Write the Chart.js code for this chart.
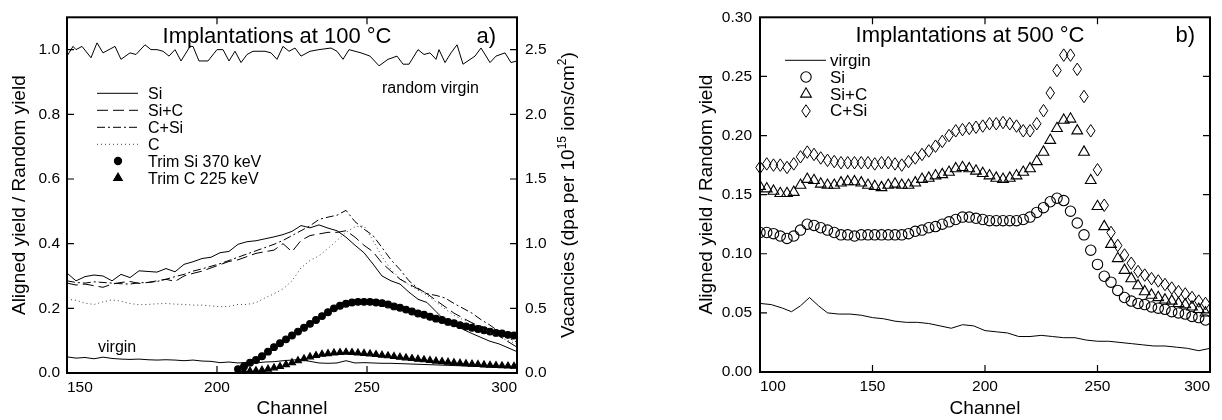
<!DOCTYPE html>
<html>
<head>
<meta charset="utf-8">
<title>Aligned yield / Random yield</title>
<script src="https://cdn.jsdelivr.net/npm/chart.js@4.4.1/dist/chart.umd.min.js"></script>
<style>
  html, body { margin: 0; padding: 0; background: #fff; }
  #wrap { position: relative; width: 1222px; height: 420px; }
  canvas { position: absolute; top: 0; }
  #chartA { left: 0; }
  #chartB { left: 610px; }
</style>
</head>
<body>
<div id="wrap">
  <canvas id="chartA" width="610" height="420"></canvas>
  <canvas id="chartB" width="612" height="420"></canvas>
</div>
<script>
const FONT = '"Liberation Sans", Arial, Helvetica, sans-serif';

// ---- a) implantations at 100 °C ----
const randomChannels = [150, 152, 153, 155, 158, 160, 162, 164, 166, 168, 171, 173, 176, 178, 180, 182, 184, 186, 188, 191, 192, 194, 197, 200, 202, 204, 206, 208, 210, 212, 216, 218, 220, 222, 224, 226, 228, 231, 234, 238, 240, 242, 244, 248, 251, 254, 257, 260, 262, 264, 267, 269, 271, 273, 274, 276, 278, 280, 282, 286, 288, 291, 293, 296, 298, 300];
const randomVirgin = [0.980, 1.010, 1.000, 1.010, 0.975, 1.021, 0.990, 1.000, 1.010, 0.970, 0.990, 0.985, 1.015, 1.000, 1.000, 0.995, 0.980, 1.000, 0.965, 1.010, 1.010, 0.965, 0.965, 1.000, 1.000, 0.965, 0.995, 0.960, 0.985, 0.995, 0.995, 0.990, 0.970, 1.010, 0.995, 1.005, 0.980, 0.995, 1.000, 1.005, 0.995, 0.970, 1.000, 0.990, 0.980, 0.950, 0.970, 0.980, 0.955, 0.955, 1.000, 0.985, 0.990, 0.970, 1.000, 0.960, 0.990, 1.015, 0.955, 0.980, 1.005, 0.960, 0.980, 0.990, 0.960, 0.965];

const channelsA = [150, 153, 156, 159, 162, 165, 168, 171, 174, 177, 180, 183, 186, 189, 192, 195, 198, 201, 204, 207, 210, 213, 216, 219, 222, 225, 228, 231, 234, 237, 240, 243, 246, 249, 252, 255, 258, 261, 264, 267, 270, 273, 276, 279, 282, 285, 288, 291, 294, 297, 300];
const virgin100 = [0.050, 0.046, 0.048, 0.044, 0.049, 0.045, 0.043, 0.042, 0.043, 0.041, 0.040, 0.041, 0.040, 0.038, 0.040, 0.037, 0.036, 0.032, 0.034, 0.031, 0.033, 0.031, 0.034, 0.035, 0.038, 0.040, 0.042, 0.036, 0.031, 0.030, 0.031, 0.038, 0.031, 0.032, 0.031, 0.030, 0.030, 0.029, 0.028, 0.027, 0.026, 0.025, 0.024, 0.023, 0.022, 0.021, 0.020, 0.019, 0.018, 0.017, 0.016];
const si100 = [0.309, 0.285, 0.298, 0.303, 0.300, 0.285, 0.305, 0.295, 0.316, 0.314, 0.312, 0.323, 0.313, 0.336, 0.344, 0.354, 0.358, 0.372, 0.376, 0.398, 0.406, 0.409, 0.415, 0.421, 0.428, 0.438, 0.456, 0.449, 0.458, 0.448, 0.440, 0.420, 0.395, 0.372, 0.337, 0.300, 0.285, 0.275, 0.250, 0.228, 0.218, 0.190, 0.162, 0.150, 0.135, 0.122, 0.110, 0.098, 0.090, 0.078, 0.066];
const siC100 = [0.278, 0.272, 0.275, 0.270, 0.265, 0.275, 0.280, 0.283, 0.277, 0.280, 0.285, 0.290, 0.283, 0.300, 0.308, 0.315, 0.325, 0.335, 0.345, 0.350, 0.360, 0.370, 0.375, 0.380, 0.400, 0.375, 0.410, 0.425, 0.430, 0.435, 0.435, 0.440, 0.420, 0.395, 0.375, 0.340, 0.315, 0.290, 0.275, 0.260, 0.245, 0.225, 0.205, 0.185, 0.170, 0.155, 0.145, 0.130, 0.115, 0.097, 0.080];
const cSi100 = [0.285, 0.280, 0.278, 0.282, 0.280, 0.278, 0.276, 0.275, 0.279, 0.280, 0.283, 0.290, 0.298, 0.305, 0.315, 0.322, 0.330, 0.338, 0.348, 0.358, 0.368, 0.378, 0.388, 0.398, 0.410, 0.425, 0.440, 0.455, 0.475, 0.482, 0.488, 0.503, 0.468, 0.445, 0.425, 0.388, 0.350, 0.320, 0.285, 0.262, 0.245, 0.240, 0.232, 0.215, 0.200, 0.185, 0.165, 0.148, 0.128, 0.110, 0.095];
const c100 = [0.228, 0.225, 0.216, 0.212, 0.220, 0.226, 0.222, 0.215, 0.211, 0.212, 0.214, 0.215, 0.213, 0.212, 0.210, 0.210, 0.207, 0.205, 0.206, 0.212, 0.212, 0.218, 0.232, 0.245, 0.260, 0.285, 0.325, 0.348, 0.362, 0.385, 0.410, 0.435, 0.452, 0.455, 0.410, 0.360, 0.320, 0.292, 0.272, 0.256, 0.240, 0.220, 0.198, 0.178, 0.165, 0.155, 0.140, 0.125, 0.112, 0.100, 0.090];

// TRIM vacancy profiles, dpa per 1e15 ions/cm2 (right axis)
const trimChannels = [207, 209, 211, 213, 215, 217, 219, 221, 223, 225, 227, 229, 231, 233, 235, 237, 239, 241, 243, 245, 247, 249, 251, 253, 255, 257, 259, 261, 263, 265, 267, 269, 271, 273, 275, 277, 279, 281, 283, 285, 287, 289, 291, 293, 295, 297, 299];
const trimSi = [0.03, 0.05, 0.08, 0.10, 0.13, 0.165, 0.20, 0.23, 0.26, 0.29, 0.32, 0.35, 0.38, 0.41, 0.44, 0.47, 0.50, 0.52, 0.535, 0.545, 0.55, 0.55, 0.55, 0.545, 0.54, 0.53, 0.515, 0.505, 0.49, 0.475, 0.46, 0.45, 0.435, 0.42, 0.41, 0.395, 0.385, 0.37, 0.36, 0.35, 0.34, 0.33, 0.32, 0.31, 0.305, 0.295, 0.29];
const trimC = [0.01, 0.012, 0.015, 0.018, 0.022, 0.03, 0.04, 0.05, 0.065, 0.08, 0.095, 0.11, 0.125, 0.135, 0.145, 0.15, 0.155, 0.158, 0.16, 0.158, 0.155, 0.152, 0.148, 0.143, 0.138, 0.133, 0.128, 0.122, 0.117, 0.112, 0.107, 0.102, 0.097, 0.092, 0.088, 0.084, 0.08, 0.076, 0.072, 0.069, 0.066, 0.063, 0.06, 0.058, 0.056, 0.054, 0.052];

// ---- b) implantations at 500 °C ----
const virginChannels = [100, 105, 110, 114, 118, 122, 126, 130, 135, 140, 145, 150, 155, 160, 165, 170, 175, 180, 185, 190, 195, 200, 205, 210, 215, 220, 225, 230, 235, 240, 245, 250, 255, 260, 265, 270, 275, 280, 285, 290, 295, 300];
const virgin500 = [0.058, 0.057, 0.054, 0.051, 0.056, 0.063, 0.056, 0.050, 0.049, 0.049, 0.048, 0.046, 0.045, 0.043, 0.042, 0.042, 0.041, 0.039, 0.037, 0.040, 0.039, 0.035, 0.034, 0.033, 0.030, 0.030, 0.031, 0.030, 0.029, 0.029, 0.027, 0.026, 0.026, 0.025, 0.024, 0.023, 0.022, 0.022, 0.021, 0.020, 0.018, 0.020];

const channelsB = [100, 103, 106, 109, 112, 115, 118, 121, 124, 127, 130, 133, 136, 139, 142, 145, 148, 151, 154, 157, 160, 163, 166, 169, 172, 175, 178, 181, 184, 187, 190, 193, 196, 199, 202, 205, 208, 211, 214, 217, 220, 223, 226, 229, 232, 235, 238, 241, 244, 247, 250, 253, 256, 259, 262, 265, 268, 271, 274, 277, 280, 283, 286, 289, 292, 295, 298];
const si500 = [0.118, 0.118, 0.117, 0.115, 0.113, 0.115, 0.120, 0.125, 0.124, 0.122, 0.120, 0.118, 0.116, 0.116, 0.115, 0.116, 0.116, 0.116, 0.116, 0.116, 0.116, 0.116, 0.117, 0.119, 0.120, 0.122, 0.123, 0.125, 0.127, 0.129, 0.131, 0.131, 0.130, 0.129, 0.128, 0.128, 0.128, 0.128, 0.128, 0.129, 0.131, 0.135, 0.139, 0.144, 0.147, 0.145, 0.136, 0.126, 0.116, 0.103, 0.091, 0.081, 0.076, 0.069, 0.063, 0.060, 0.058, 0.057, 0.055, 0.054, 0.053, 0.051, 0.050, 0.049, 0.047, 0.046, 0.044];
const siC500 = [0.157, 0.155, 0.153, 0.151, 0.151, 0.152, 0.158, 0.163, 0.162, 0.159, 0.158, 0.158, 0.160, 0.161, 0.161, 0.160, 0.158, 0.157, 0.156, 0.158, 0.159, 0.158, 0.158, 0.160, 0.163, 0.164, 0.166, 0.167, 0.169, 0.172, 0.173, 0.172, 0.170, 0.168, 0.166, 0.164, 0.163, 0.164, 0.166, 0.169, 0.172, 0.178, 0.186, 0.196, 0.206, 0.213, 0.214, 0.204, 0.186, 0.162, 0.140, 0.123, 0.108, 0.096, 0.086, 0.079, 0.073, 0.068, 0.065, 0.063, 0.061, 0.060, 0.058, 0.057, 0.055, 0.053, 0.050];
const cSi500 = [0.173, 0.176, 0.175, 0.175, 0.173, 0.176, 0.182, 0.186, 0.184, 0.181, 0.179, 0.178, 0.177, 0.177, 0.177, 0.177, 0.177, 0.176, 0.177, 0.177, 0.176, 0.175, 0.178, 0.181, 0.184, 0.187, 0.191, 0.195, 0.200, 0.204, 0.205, 0.206, 0.207, 0.208, 0.210, 0.210, 0.211, 0.210, 0.208, 0.204, 0.204, 0.210, 0.221, 0.236, 0.255, 0.268, 0.268, 0.256, 0.233, 0.204, 0.171, 0.141, 0.118, 0.107, 0.099, 0.092, 0.085, 0.082, 0.079, 0.077, 0.074, 0.071, 0.068, 0.066, 0.063, 0.060, 0.058];

Chart.defaults.font.family = FONT;
Chart.defaults.font.size = 15.5;
Chart.defaults.color = "#000";

function toPoints(xs, ys) {
  return xs.map((x, i) => ({ x: x, y: ys[i] }));
}

// open diamond outline, taller than wide
function strokeDiamond(ctx, x, y, w, h) {
  ctx.beginPath();
  ctx.moveTo(x, y - h / 2);
  ctx.lineTo(x + w / 2, y);
  ctx.lineTo(x, y + h / 2);
  ctx.lineTo(x - w / 2, y);
  ctx.closePath();
  ctx.stroke();
}

// datasets flagged with `diamond: [w, h]` get their points outlined here,
// at the positions the line controller computed for them
const diamondPoints = {
  id: "diamondPoints",
  afterDatasetsDraw(chart) {
    const { ctx } = chart;
    ctx.save();
    ctx.strokeStyle = "#000";
    ctx.lineWidth = 1;
    chart.data.datasets.forEach((ds, i) => {
      if (!ds.diamond) return;
      chart.getDatasetMeta(i).data.forEach((pt) => {
        strokeDiamond(ctx, pt.x, pt.y, ds.diamond[0], ds.diamond[1]);
      });
    });
    ctx.restore();
  },
};

// box around the plot with inward tick marks on all four sides
const frameTicks = {
  id: "frameTicks",
  afterDraw(chart, args, opts) {
    const { ctx, chartArea: a, scales } = chart;
    const len = 7;
    const right = scales[opts.rightAxis] || scales.y;
    ctx.save();
    ctx.strokeStyle = "#000";
    ctx.lineWidth = 1.2;
    ctx.beginPath();
    scales.x.ticks.forEach((t) => {
      const px = scales.x.getPixelForValue(t.value);
      if (px <= a.left + 1 || px >= a.right - 1) return;
      ctx.moveTo(px, a.bottom);
      ctx.lineTo(px, a.bottom - len);
      ctx.moveTo(px, a.top);
      ctx.lineTo(px, a.top + len);
    });
    scales.y.ticks.forEach((t) => {
      const py = scales.y.getPixelForValue(t.value);
      if (py >= a.bottom - 1 || py <= a.top + 1) return;
      ctx.moveTo(a.left, py);
      ctx.lineTo(a.left + len, py);
    });
    right.ticks.forEach((t) => {
      const py = right.getPixelForValue(t.value);
      if (py >= a.bottom - 1 || py <= a.top + 1) return;
      ctx.moveTo(a.right, py);
      ctx.lineTo(a.right - len, py);
    });
    ctx.stroke();
    ctx.lineWidth = 2;
    ctx.strokeRect(a.left, a.top, a.right - a.left, a.bottom - a.top);
    ctx.restore();
  },
};

// free text inside the plot (panel titles, curve names)
const panelText = {
  id: "panelText",
  afterDraw(chart, args, opts) {
    const { ctx, chartArea: a } = chart;
    ctx.save();
    ctx.fillStyle = "#000";
    ctx.textBaseline = "alphabetic";
    (opts.items || []).forEach((it) => {
      ctx.font = `${it.size}px ${FONT}`;
      ctx.textAlign = it.align || "left";
      const x = it.fromRight ? a.right - it.dx : a.left + it.dx;
      const y = it.fromBottom ? a.bottom - it.dy : a.top + it.dy;
      ctx.fillText(it.text, x, y);
    });
    ctx.restore();
  },
};

// legend drawn inside the plot area, one row per labelled dataset
const inlineLegend = {
  id: "inlineLegend",
  afterDraw(chart, args, opts) {
    if (!opts.rowHeight) return;
    const { ctx, chartArea: a } = chart;
    const x0 = a.left + opts.left;
    let y = a.top + opts.top;
    ctx.save();
    ctx.font = `${opts.size}px ${FONT}`;
    ctx.textBaseline = "middle";
    ctx.textAlign = "left";
    chart.data.datasets.forEach((ds) => {
      if (!ds.label) return;
      const mx = Math.round(x0 + opts.lineLength / 2);
      ctx.strokeStyle = "#000";
      if (ds.diamond) {
        ctx.lineWidth = 1;
        strokeDiamond(ctx, mx, Math.round(y), ds.diamond[0], ds.diamond[1]);
      } else if (ds.showLine === false) {
        ctx.fillStyle = ds.pointBackgroundColor;
        ctx.lineWidth = ds.pointBorderWidth || 1;
        Chart.helpers.drawPoint(
          ctx,
          {
            pointStyle: ds.pointStyle,
            radius: ds.legendRadius || ds.pointRadius,
            rotation: 0,
            borderWidth: ds.pointBorderWidth,
          },
          mx,
          Math.round(y)
        );
      } else {
        ctx.strokeStyle = ds.borderColor;
        ctx.lineWidth = ds.borderWidth;
        ctx.setLineDash(ds.borderDash || []);
        ctx.beginPath();
        ctx.moveTo(x0, y);
        ctx.lineTo(x0 + opts.lineLength, y);
        ctx.stroke();
        ctx.setLineDash([]);
      }
      ctx.fillStyle = "#000";
      ctx.fillText(ds.label, x0 + opts.textOffset, y + 1);
      y += opts.rowHeight;
    });
    ctx.restore();
  },
};

// rotated right-hand axis title with superscripts
const sideTitle = {
  id: "sideTitle",
  afterDraw(chart, args, opts) {
    if (!opts.parts) return;
    const { ctx, chartArea: a } = chart;
    const big = `${opts.size}px ${FONT}`;
    const small = `${opts.supSize}px ${FONT}`;
    const base = opts.size * 0.35;
    ctx.save();
    ctx.translate(a.right + opts.dx, (a.top + a.bottom) / 2);
    ctx.rotate(-Math.PI / 2);
    ctx.fillStyle = "#000";
    ctx.textBaseline = "alphabetic";
    ctx.textAlign = "left";
    let total = 0;
    opts.parts.forEach((p) => {
      ctx.font = p.sup ? small : big;
      total += ctx.measureText(p.text).width;
    });
    let x = -total / 2;
    opts.parts.forEach((p) => {
      ctx.font = p.sup ? small : big;
      ctx.fillText(p.text, x, p.sup ? base - opts.size * 0.42 : base);
      x += ctx.measureText(p.text).width;
    });
    ctx.restore();
  },
};

function lineSet(label, xs, ys, dash, color) {
  return {
    label: label,
    data: toPoints(xs, ys),
    borderColor: color || "#000",
    borderWidth: 1,
    borderDash: dash || [],
    pointRadius: 0,
    yAxisID: "y",
  };
}

function markerSet(label, xs, ys, style, radius, filled, axis) {
  return {
    label: label,
    data: toPoints(xs, ys),
    showLine: false,
    pointStyle: style,
    pointRadius: radius,
    pointBorderWidth: 1.1,
    pointBorderColor: "#000",
    pointBackgroundColor: filled ? "#000" : "rgba(0,0,0,0)",
    yAxisID: axis || "y",
  };
}

function plainScale(extra) {
  return Object.assign(
    {
      type: "linear",
      grid: { display: false, drawTicks: false },
      border: { display: false },
    },
    extra
  );
}

const commonOptions = {
  responsive: false,
  devicePixelRatio: 1,
  animation: false,
  events: [],
  elements: { line: { tension: 0 } },
};

const trimTriangle = markerSet("Trim C 225 keV", trimChannels, trimC, "triangle", 4, true, "y1");
trimTriangle.legendRadius = 5;
const trimCircle = markerSet("Trim Si 370 keV", trimChannels, trimSi, "circle", 3.4, true, "y1");
trimCircle.legendRadius = 3.6;

// C+Si at 500 °C: points are positioned by the chart but outlined by diamondPoints
const cSiDiamonds = markerSet("C+Si", channelsB, cSi500, "circle", 0, false);
cSiDiamonds.diamond = [8.5, 12.5];

new Chart(document.getElementById("chartA").getContext("2d"), {
  type: "line",
  data: {
    datasets: [
      lineSet("", randomChannels, randomVirgin),
      lineSet("", channelsA, virgin100),
      lineSet("Si", channelsA, si100),
      lineSet("Si+C", channelsA, siC100, [11, 5]),
      lineSet("C+Si", channelsA, cSi100, [8, 3, 2, 3]),
      lineSet("C", channelsA, c100, [1, 3], "#444"),
      trimCircle,
      trimTriangle,
    ],
  },
  options: Object.assign({}, commonOptions, {
    layout: { padding: { left: 4, right: 28, top: 11, bottom: 0 } },
    scales: {
      x: plainScale({
        min: 150,
        max: 300,
        ticks: { stepSize: 50, align: "inner", padding: 5 },
        title: { display: true, text: "Channel", font: { size: 19 }, padding: { top: 0, bottom: 0 } },
        afterFit: (s) => { s.height = 47; },
      }),
      y: plainScale({
        min: 0,
        max: 1.1,
        ticks: { stepSize: 0.2, includeBounds: false, padding: 7, callback: (v) => v.toFixed(1) },
        title: { display: true, text: "Aligned yield / Random yield", font: { size: 19 } },
        afterFit: (s) => { s.width = 63; },
      }),
      y1: plainScale({
        position: "right",
        min: 0,
        max: 2.75,
        ticks: { stepSize: 0.5, includeBounds: false, padding: 8, callback: (v) => v.toFixed(1) },
        afterFit: (s) => { s.width = 65; },
      }),
    },
    plugins: {
      legend: { display: false },
      tooltip: { enabled: false },
      frameTicks: { rightAxis: "y1" },
      panelText: {
        items: [
          { text: "Implantations at 100 °C", size: 22, dx: 210, dy: 26, align: "center" },
          { text: "a)", size: 22, dx: 21, dy: 26, align: "right", fromRight: true },
          { text: "random virgin", size: 16, dx: 315, dy: 76 },
          { text: "virgin", size: 16, dx: 31, dy: 21, fromBottom: true },
        ],
      },
      inlineLegend: { left: 30, top: 76, rowHeight: 17, lineLength: 41, textOffset: 51, size: 16 },
      sideTitle: {
        dx: 50,
        size: 19,
        supSize: 12,
        parts: [
          { text: "Vacancies (dpa per 10" },
          { text: "15", sup: true },
          { text: " ions/cm" },
          { text: "2", sup: true },
          { text: ")" },
        ],
      },
    },
  }),
  plugins: [frameTicks, panelText, inlineLegend, sideTitle],
});

new Chart(document.getElementById("chartB").getContext("2d"), {
  type: "line",
  data: {
    datasets: [
      lineSet("virgin", virginChannels, virgin500),
      markerSet("Si", channelsB, si500, "circle", 5.2, false),
      markerSet("Si+C", channelsB, siC500, "triangle", 6.2, false),
      cSiDiamonds,
    ],
  },
  options: Object.assign({}, commonOptions, {
    layout: { padding: { left: 81, right: 12, top: 12, bottom: 0 } },
    scales: {
      x: plainScale({
        min: 100,
        max: 300,
        ticks: { stepSize: 50, align: "inner", padding: 5 },
        title: { display: true, text: "Channel", font: { size: 19 }, padding: { top: 0, bottom: 0 } },
        afterFit: (s) => { s.height = 48; },
      }),
      y: plainScale({
        min: 0,
        max: 0.3,
        ticks: { stepSize: 0.05, padding: 8, callback: (v) => v.toFixed(2) },
        title: { display: true, text: "Aligned yield / Random yield", font: { size: 19 } },
        afterFit: (s) => { s.width = 69; },
      }),
    },
    plugins: {
      legend: { display: false },
      tooltip: { enabled: false },
      frameTicks: {},
      panelText: {
        items: [
          { text: "Implantations at 500 °C", size: 22, dx: 210, dy: 25, align: "center" },
          { text: "b)", size: 22, dx: 15, dy: 25, align: "right", fromRight: true },
        ],
      },
      inlineLegend: { left: 25, top: 43, rowHeight: 16.8, lineLength: 41, textOffset: 45, size: 17 },
    },
  }),
  plugins: [diamondPoints, frameTicks, panelText, inlineLegend, sideTitle],
});
</script>
</body>
</html>
